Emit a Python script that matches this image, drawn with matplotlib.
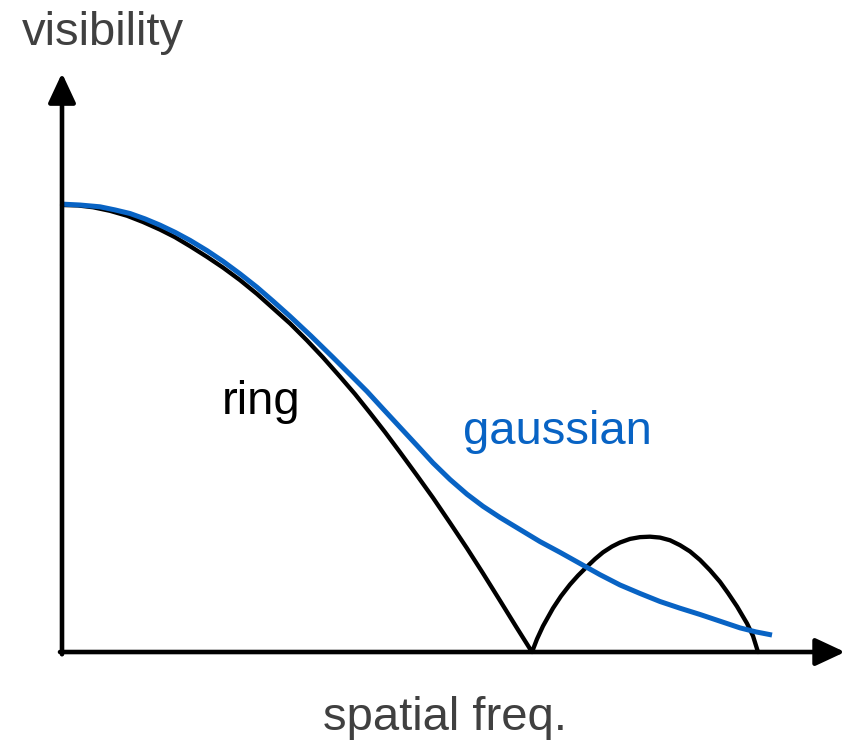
"""Ring vs gaussian visibility sketch."""

import matplotlib
matplotlib.use("Agg")
import matplotlib.pyplot as plt

# spatial frequency (arbitrary units) and normalised visibility
ring_freq = [0.00, 0.16, 0.31, 0.48, 0.65, 0.81, 0.98, 1.13, 1.28, 1.45,
             1.61, 1.78, 1.95, 2.11, 2.28, 2.45, 2.61, 2.78, 2.93, 3.08,
             3.23, 3.38, 3.55, 3.71, 3.88, 4.05, 4.21, 4.38, 4.54, 4.70,
             4.75, 4.81, 4.91, 4.99, 5.08, 5.16, 5.25, 5.33, 5.41, 5.50,
             5.58, 5.68, 5.78, 5.88, 5.98, 6.08, 6.18, 6.28, 6.38, 6.48,
             6.58, 6.66, 6.75, 6.85, 6.91, 6.96]
ring_vis = [1.000, 0.999, 0.995, 0.987, 0.976, 0.962, 0.945, 0.928, 0.908, 0.884,
            0.860, 0.832, 0.801, 0.769, 0.735, 0.697, 0.659, 0.616, 0.577, 0.535,
            0.492, 0.447, 0.395, 0.345, 0.289, 0.232, 0.176, 0.115, 0.057, 0.000,
            0.029, 0.058, 0.098, 0.125, 0.151, 0.171, 0.191, 0.208, 0.223, 0.236,
            0.245, 0.253, 0.257, 0.258, 0.256, 0.250, 0.239, 0.225, 0.206, 0.183,
            0.157, 0.132, 0.102, 0.064, 0.036, 0.000]

gauss_freq = [0.00, 0.18, 0.38, 0.53, 0.68, 0.83, 0.98, 1.13, 1.28, 1.45,
              1.61, 1.78, 1.95, 2.11, 2.28, 2.49, 2.71, 2.88, 3.05, 3.21,
              3.38, 3.55, 3.71, 3.88, 4.05, 4.21, 4.38, 4.58, 4.78, 4.98,
              5.18, 5.38, 5.58, 5.78, 5.98, 6.18, 6.38, 6.58, 6.78, 6.94,
              7.10]
gauss_vis = [1.002, 1.000, 0.996, 0.989, 0.981, 0.969, 0.955, 0.939, 0.921, 0.898,
             0.874, 0.846, 0.816, 0.785, 0.751, 0.707, 0.659, 0.621, 0.583, 0.544,
             0.503, 0.462, 0.423, 0.386, 0.353, 0.326, 0.301, 0.274, 0.247, 0.223,
             0.198, 0.173, 0.150, 0.131, 0.113, 0.098, 0.084, 0.069, 0.054, 0.045,
             0.038]

BLUE = "#0863C4"
GREY = "#404040"
plt.rcParams["font.family"] = ["Liberation Sans", "DejaVu Sans"]

fig = plt.figure(figsize=(8.48, 7.42), dpi=100)
ax = fig.add_axes([0, 0, 1, 1])
ax.set_xlim(-0.62, 7.86)
ax.set_ylim(-0.2013, 1.4586)
ax.axis("off")

# axes with arrow heads
arrow = dict(arrowstyle="-|>,head_length=0.9,head_width=0.42", lw=3.3,
             color="black", mutation_scale=20, shrinkA=0, shrinkB=0)
ax.annotate("", xy=(0, 1.295), xytext=(0, -0.005), arrowprops=arrow)
ax.annotate("", xy=(7.83, 0), xytext=(-0.02, 0), arrowprops=arrow)

ax.plot(ring_freq, ring_vis, color="black", lw=3.1,
        solid_joinstyle="round", solid_capstyle="round")
ax.plot(gauss_freq, gauss_vis, color=BLUE, lw=3.6,
        solid_joinstyle="round", solid_capstyle="butt")

ax.text(0.41, 1.385, "visibility", fontsize=34, color=GREY, ha="center", va="center")
ax.text(3.83, -0.148, "spatial freq.", fontsize=34, color=GREY, ha="center", va="center")
ax.text(1.99, 0.559, "ring", fontsize=34, color="black", ha="center", va="center")
ax.text(4.95, 0.492, "gaussian", fontsize=34, color=BLUE, ha="center", va="center")

fig.savefig("out.png", dpi=100)
